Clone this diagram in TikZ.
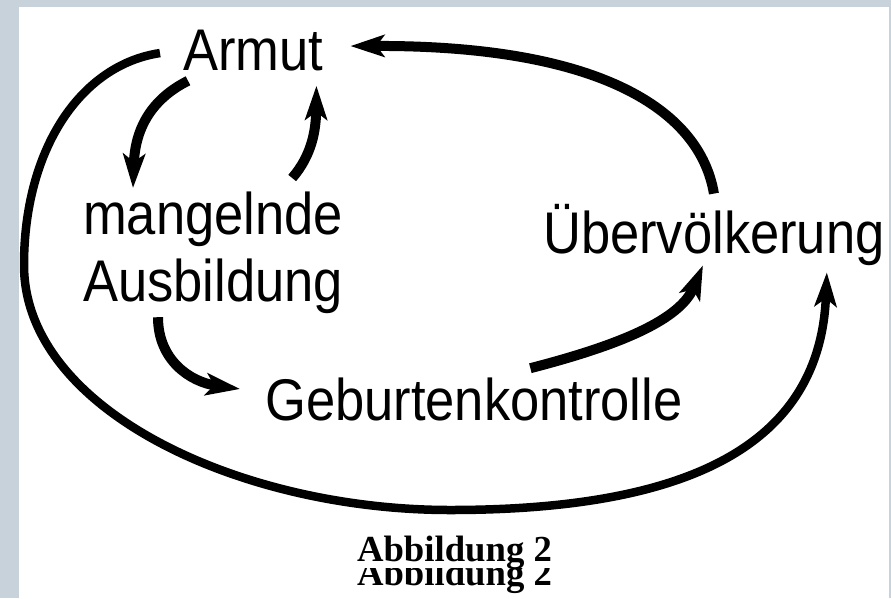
\documentclass[tikz,border=0pt]{standalone}
\usepackage{fontspec}
\usetikzlibrary{arrows.meta}
\newfontfamily\diagfont{Liberation Sans}
\newfontfamily\capserif{Liberation Serif}
\definecolor{FrameGrey}{HTML}{C7D2DA}
\newcommand{\tallText}[1]{\scalebox{1}[1.12]{#1}}

\begin{document}
\begin{tikzpicture}[x=1pt,y=-1pt,
    term/.style={inner sep=0pt,font=\diagfont\fontsize{52.5}{67}\selectfont},
    capline/.style={inner sep=0pt,anchor=base,font=\capserif\bfseries\fontsize{36.7}{40}\selectfont},
    flow/.style={line width=10pt,-{Stealth[length=34pt,width=22pt,inset=8pt]}},
    loopflow/.style={flow,line width=8.5pt}]
  \useasboundingbox (0,0) rectangle (891,598);
  % frame
  \fill[FrameGrey] (0,0) rectangle (891,598);
  \fill[white] (19,7) rectangle (889,598);

  % terms
  \node[term,anchor=base west] (armut) at (183,70) {\tallText{Armut}};
  \node[term,anchor=north west,align=left] (ausb) at (83,192) {\tallText{mangelnde}\\\tallText{Ausbildung}};
  \node[term,anchor=base west] (ueber) at (543,253) {\tallText{Übervölkerung}};
  \node[term,anchor=base west] (geburt) at (265,420) {\tallText{Geburtenkontrolle}};

  % inner cycle
  \draw[flow] ([shift={(5,10)}]armut.south west) .. controls (150,100) and (135,130) .. ([shift={(50,-4)}]ausb.north west);
  \draw[flow] ([shift={(-51,-14)}]ausb.north east) .. controls (312,155) and (316,130) .. ([shift={(-7,15)}]armut.south east);
  \draw[flow] ([shift={(75,3)}]ausb.south west) .. controls (158,360) and (190,382) .. ([shift={(-25,-10)}]geburt.west);
  \draw[flow] ([shift={(56.5,-9)}]geburt.north) .. controls (620,345) and (680,320) .. ([xshift=-11pt]ueber.south);
  \draw[flow] ([yshift=10pt]ueber.north) .. controls (700,110) and (600,45) .. ([shift={(27,-4)}]armut.east);

  % outer loop
  \draw[loopflow] ([shift={(-23,3)}]armut.west) .. controls (80,65) and (24,150) .. (24,265)
    .. controls (24,410) and (240,510) .. (450,510)
    .. controls (680,510) and (820,450) .. ([shift={(-58,7)}]ueber.south east);

  % caption
  \node[capline] (cap) at (454.5,561) {Abbildung 2};
  \begin{scope}
    \clip (340,568) rectangle (570,598);
    \node[capline] (capecho) at (454.5,585) {Abbildung 2};
  \end{scope}
\end{tikzpicture}
\end{document}
